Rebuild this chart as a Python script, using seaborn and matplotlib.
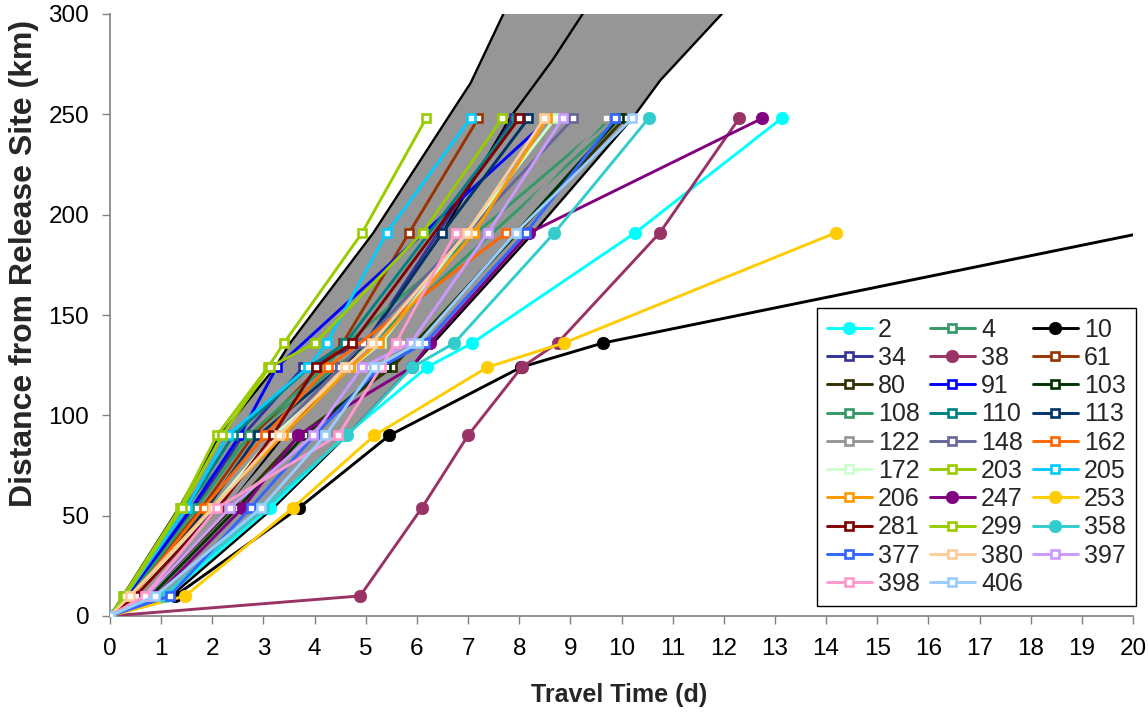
import numpy as np
import pandas as pd
import matplotlib
matplotlib.use("Agg")
import matplotlib.pyplot as plt
import seaborn as sns

# -----------------------------
# DATA
# -----------------------------
# distance of each receiver from the release site (km)
distance = [0, 10, 54, 90, 124, 136, 191, 248]

# travel time (d) to each receiver, nan = not detected there
t_2 = [0, 1.10, 3.13, 4.60, 6.20, 7.08, 10.27, 13.13]
t_4 = [0, 0.30, 1.40, 2.75, 4.40, 5.10, np.nan, 9.95]
t_10 = [0, 1.27, 3.70, 5.46, 8.04, 9.63, 20.2, np.nan]
t_34 = [0, 0.35, 1.65, 2.60, 3.78, 4.99, np.nan, 7.89]
t_38 = [0, 4.89, 6.10, 7.00, 8.05, 8.75, 10.75, 12.30]
t_61 = [0, 0.40, 1.80, 2.80, 4.10, 4.55, 5.85, 7.20]
t_80 = [0, 0.70, 2.40, 3.70, 5.52, np.nan, np.nan, 10.06]
t_91 = [0, 0.35, 1.60, 2.54, 3.26, np.nan, np.nan, 8.59]
t_103 = [0, 0.80, 2.50, 3.80, 5.40, 6.00, np.nan, 9.95]
t_108 = [0, 0.40, 1.70, 2.71, 4.20, 4.63, np.nan, 9.80]
t_110 = [0, 0.30, 1.50, 2.41, 3.90, 4.60, np.nan, 7.95]
t_113 = [0, 0.45, 1.90, 2.90, 4.50, 5.00, 6.50, 8.18]
t_122 = [0, 0.60, 2.30, 3.50, 5.00, 5.70, np.nan, 9.69]
t_148 = [0, 0.50, 2.10, 3.20, 4.50, 4.95, np.nan, 9.06]
t_162 = [0, 0.45, 1.83, 3.03, 4.26, np.nan, 7.75, np.nan]
t_172 = [0, 0.50, 2.00, 3.20, 4.71, 5.30, np.nan, 8.70]
t_203 = [0, 0.26, 1.37, 2.09, 3.09, 3.40, 4.93, 6.18]
t_205 = [0, 0.30, 1.50, 2.30, 3.88, 4.24, 5.41, 7.05]
t_206 = [0, 0.40, 2.00, 3.38, 4.70, 5.25, 7.12, 8.55]
t_247 = [0, 0.90, 2.60, 3.68, 5.90, 6.26, 8.20, 12.75]
t_253 = [0, 1.47, 3.58, 5.17, 7.38, 8.87, 14.19, np.nan]
t_281 = [0, 0.50, 2.12, 3.18, 4.03, 4.74, np.nan, 8.00]
t_299 = [0, 0.30, 1.41, 2.19, 3.12, 4.01, 6.11, 7.67]
t_358 = [0, 1.04, 3.00, 4.64, 5.91, 6.73, 8.69, 10.53]
t_377 = [0, 1.17, 2.75, 4.00, 5.28, 6.16, 8.13, 9.88]
t_380 = [0, 0.39, 2.02, 3.30, 4.60, 5.12, 6.98, 8.49]
t_397 = [0, 0.70, 2.35, 3.97, 4.93, 5.88, 7.39, 8.85]
t_398 = [0, 0.68, 2.10, 4.46, 5.30, 5.59, 6.76, np.nan]
t_406 = [0, 0.88, 2.96, 4.21, 5.17, 6.03, 7.93, 10.21]

tags = ["2", "4", "10", "34", "38", "61", "80", "91", "103", "108",
        "110", "113", "122", "148", "162", "172", "203", "205", "206",
        "247", "253", "281", "299", "358", "377", "380", "397", "398", "406"]
times = [t_2, t_4, t_10, t_34, t_38, t_61, t_80, t_91, t_103, t_108,
         t_110, t_113, t_122, t_148, t_162, t_172, t_203, t_205, t_206,
         t_247, t_253, t_281, t_299, t_358, t_377, t_380, t_397, t_398, t_406]

# expected travel time envelope (d, km)
band_left_t = [0, 0.25, 1.35, 2.15, 3.23, 3.52, 5.15, 6.60, 7.05, 7.69]
band_left_d = [0, 10, 54, 90, 124, 136, 191, 248, 265.6, 300]
band_mid_t = [0, 0.70, 2.30, 3.40, 4.60, 5.00, 6.50, 7.83, 8.65, 9.24]
band_mid_d = [0, 10, 54, 90, 124, 136, 191, 248.6, 277, 300]
band_right_t = [0, 1.20, 3.20, 4.63, 5.90, 6.32, 8.28, 10.23, 10.76, 11.96]
band_right_d = [0, 10, 54, 90, 124, 136, 191, 248.6, 267, 300]

# -----------------------------
# STYLE
# -----------------------------
colors = ["#00FFFF", "#339966", "#000000", "#333399", "#993366", "#993300",
          "#333300", "#0000FF", "#003300", "#339966", "#008080", "#003366",
          "#969696", "#666699", "#FF6600", "#CCFFCC", "#99CC00", "#00CCFF",
          "#FF9900", "#800080", "#FFCC00", "#800000", "#99CC00", "#33CCCC",
          "#3366FF", "#FFCC99", "#CC99FF", "#FF99CC", "#99CCFF"]
circle_tags = {"2", "10", "38", "247", "253", "358"}

sns.set_theme(style="white")
plt.rcParams["font.family"] = ["Liberation Sans", "DejaVu Sans"]

fig = plt.figure(figsize=(11.48, 7.14), dpi=100)
ax = fig.add_axes([110 / 1148, 98 / 714, 1023 / 1148, 602 / 714])

# grey envelope
ax.fill(band_left_t + band_right_t[::-1], band_left_d + band_right_d[::-1],
        color="#969696", lw=0, zorder=1)
for bt, bd in [(band_left_t, band_left_d), (band_mid_t, band_mid_d),
               (band_right_t, band_right_d)]:
    sns.lineplot(x=bt, y=bd, color="black", lw=1.7, sort=False,
                 estimator=None, ax=ax, zorder=2)

# one line per fish
for tag, tt, col in zip(tags, times, colors):
    df = pd.DataFrame({"t": tt, "d": distance}).dropna()
    if tag in circle_tags:
        mk = dict(marker="o", markersize=9, markerfacecolor=col,
                  markeredgecolor=col, markeredgewidth=0.5)
    else:
        mk = dict(marker="s", markersize=5.8, markerfacecolor="white",
                  markeredgecolor=col, markeredgewidth=1.9)
    sns.lineplot(data=df, x="t", y="d", color=col, lw=2.1, sort=False,
                 estimator=None, ax=ax, label=tag, zorder=3, **mk)

# -----------------------------
# AXES
# -----------------------------
ax.set_xlim(0, 20)
ax.set_ylim(0, 300)
ax.set_xticks(range(0, 21, 1))
ax.set_yticks(range(0, 301, 50))
for side in ["top", "right"]:
    ax.spines[side].set_visible(False)
for side in ["left", "bottom"]:
    ax.spines[side].set_color("#808080")
    ax.spines[side].set_linewidth(1.2)
ax.tick_params(axis="both", which="major", bottom=True, left=True,
               direction="out", length=6, width=1, color="#808080",
               labelsize=17.5, labelcolor="black")
ax.tick_params(axis="x", pad=10)
ax.tick_params(axis="y", pad=9)

ax.set_xlabel("Travel Time (d)", fontsize=18, fontweight="bold")
ax.set_ylabel("Distance from Release Site (km)", fontsize=23, fontweight="bold")
ax.xaxis.set_label_coords(0.4976, -0.111)
ax.yaxis.set_label_coords(-0.0694, 0.585)

# legend laid out row by row like the original
handles, labels = ax.get_legend_handles_labels()
n = len(handles)
order = list(range(0, n, 3)) + list(range(1, n, 3)) + list(range(2, n, 3))
leg = ax.legend([handles[i] for i in order], [labels[i] for i in order],
                ncol=3, loc="lower right", bbox_to_anchor=(1.003, 0.017),
                borderaxespad=0, fontsize=18, frameon=True, fancybox=False,
                edgecolor="black", framealpha=1, handlelength=1.8,
                handletextpad=0.25, columnspacing=0.4, labelspacing=0.17,
                borderpad=0.4)
leg.get_frame().set_linewidth(1.0)
leg.set_zorder(10)

fig.savefig("out.png", dpi=100)
